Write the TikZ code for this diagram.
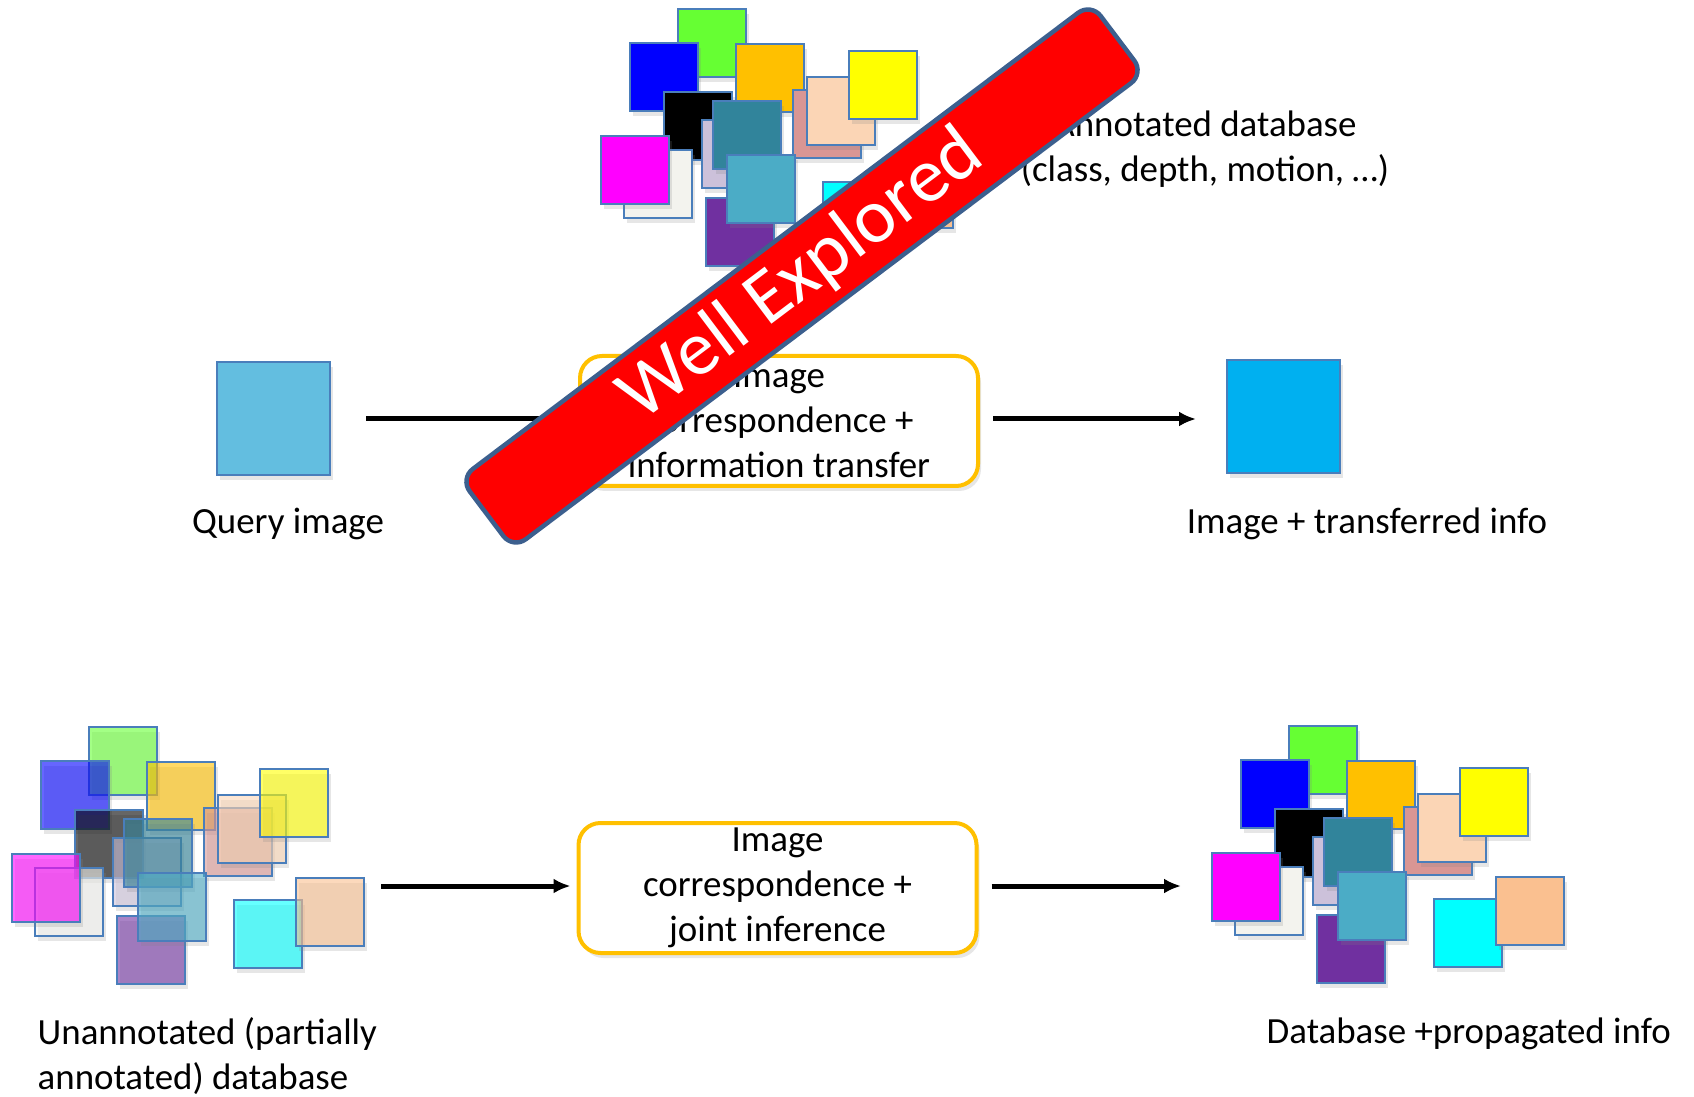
\documentclass[tikz,border=0pt]{standalone}
\usepackage{fontspec}
\setmainfont{Carlito}
\usetikzlibrary{arrows.meta,shadows}

\definecolor{sqedge}{HTML}{4A7EBB}
\definecolor{sqgreen}{HTML}{66FF33}
\definecolor{sqblue}{HTML}{0000FF}
\definecolor{sqorange}{HTML}{FFC000}
\definecolor{sqrose}{HTML}{D99694}
\definecolor{sqpeach}{HTML}{FBD5B5}
\definecolor{sqyellow}{HTML}{FFFF00}
\definecolor{sqwhite}{HTML}{F3F3EE}
\definecolor{sqmagenta}{HTML}{FF00FF}
\definecolor{sqlilac}{HTML}{CCC1DA}
\definecolor{sqteal}{HTML}{31849B}
\definecolor{sqpurple}{HTML}{7030A0}
\definecolor{sqaqua}{HTML}{4BACC6}
\definecolor{sqcyan}{HTML}{00FFFF}
\definecolor{sqtan}{HTML}{FAC090}
\definecolor{qblue}{HTML}{63BEE0}
\definecolor{rblue}{HTML}{00B0F0}
\definecolor{boxorange}{HTML}{FFC000}
\definecolor{bannerblue}{HTML}{3C5F8E}

\tikzset{
  softshadow/.style={drop shadow={opacity=0.2,shadow xshift=0.3mm,shadow yshift=-0.5mm}},
  sq/.style={draw=sqedge, line width=0.2mm, softshadow},
  imgsq/.style={sq, minimum size=11.3mm, inner sep=0pt},
  procbox/.style={draw=boxorange, line width=0.4mm, rounded corners=2.2mm, fill=white,
    minimum width=39.8mm, minimum height=13mm, inner sep=0pt, align=center, softshadow},
  arr/.style={-{Latex[length=1.7mm,width=1.5mm]}, line width=0.5mm},
  lbl/.style={inner sep=0pt},
  banner/.style={fill=red, draw=bannerblue, line width=0.45mm, rounded corners=1.6mm,
    minimum width=79mm, minimum height=8.8mm, inner sep=0pt, text=white,
    font=\fontsize{22}{26}\selectfont}
}

% one database: 15 overlapping pictures
\newcommand{\dbcluster}[1]{%
  \foreach \px/\py/\col in {89/16/sqgreen, 41/50/sqblue, 147/51/sqorange, 204/97/sqrose,
      218/84/sqpeach, 260/58/sqyellow, 75/99/black, 35/157/sqwhite, 12/143/sqmagenta,
      113/127/sqlilac, 124/108/sqteal, 117/205/sqpurple, 138/162/sqaqua,
      234/189/sqcyan, 296/167/sqtan}
    \filldraw[sq, fill=\col, fill opacity=#1] (\px,\py) rectangle +(68,68);
}

\begin{document}
\begin{tikzpicture}[x=0.1mm, y=-0.1mm, font=\fontsize{10.5}{12.8}\selectfont]
\useasboundingbox (0,0) rectangle (1694,1097);

% databases
\begin{scope}[shift={(589,-7)}] \dbcluster{1} \end{scope}
\begin{scope}[shift={(0,711)}] \dbcluster{0.6} \end{scope}
\begin{scope}[shift={(1200,710)}] \dbcluster{1} \end{scope}

% top row
\node[imgsq, fill=qblue] (query) at (273.5,419) {};
\node[imgsq, fill=rblue] (result) at (1283.5,417) {};
\node[procbox] (transfer) at (779,421) {Image\\correspondence +\\information transfer};
\draw[arr, shorten <=3.5mm] (query) -- (query -| transfer.west);
\draw[arr, shorten <=1.3mm, shorten >=3mm] (transfer.east |- query) -- (query -| result.west);

% bottom row
\node[procbox] (joint) at (777.5,888) {Image\\correspondence +\\joint inference};
\coordinate (unannot) at (381,886);
\coordinate (propagated) at (1181,886);
\draw[arr, shorten >=0.6mm] (unannot) -- (unannot -| joint.west);
\draw[arr, shorten <=1.3mm] (joint.east |- propagated) -- (propagated);

% labels
\node[lbl, anchor=base] (querylbl) at (288,534) {Query image};
\node[lbl, anchor=base] (resultlbl) at (1367,534) {Image + transferred info};
\node[lbl, align=center] (annotlbl) at (1205,149) {Annotated database\\(class, depth, motion, …)};
\node[lbl, align=left, anchor=west] (unannotlbl) at (37,1056) {Unannotated (partially\\annotated) database};
\node[lbl, anchor=base west] (proplbl) at (1266,1043) {Database +propagated info};

% stamp
\node[banner, rotate=37] (stamp) at (802,276) {Well Explored};
\end{tikzpicture}
\end{document}
